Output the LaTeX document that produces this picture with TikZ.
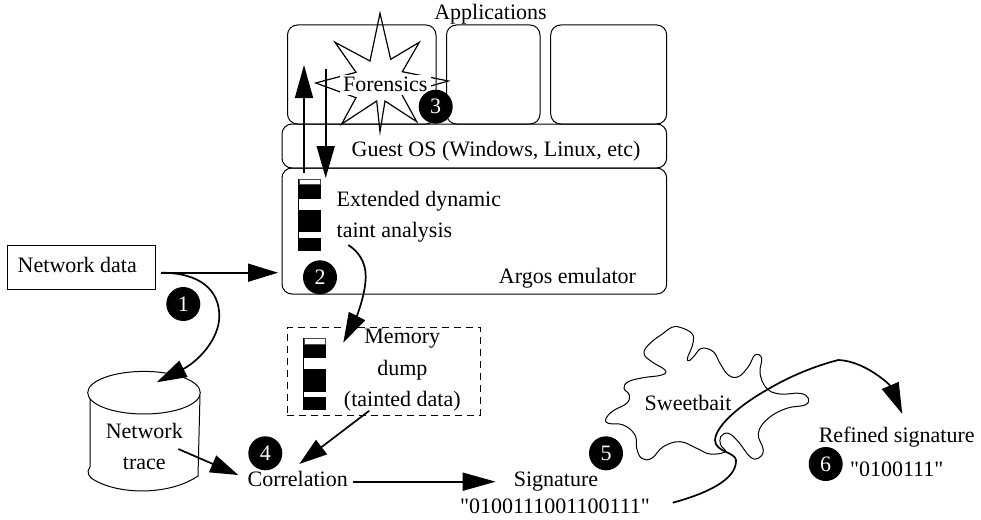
\documentclass[tikz,border=0pt]{standalone}
\usepackage{fontspec}
\setmainfont{Liberation Serif}[Ligatures=TeXOff]
\usetikzlibrary{arrows.meta}
\tikzset{
  x=1pt,y=-1pt,
  every node/.style={font=\fontsize{22}{26}\selectfont,inner sep=0pt,outer sep=0pt},
  lab/.style={anchor=base},
  labl/.style={anchor=base west},
  rbox/.style={draw=black,line width=1pt,rounded corners=10pt,minimum width=#1,anchor=north west},
  badge/.style={circle,fill=black,text=white,minimum size=34pt},
  arr/.style={line width=1.7pt,-{Triangle[length=#1,width=18pt]}},
  arr/.default=31pt,
  thinline/.style={line width=1pt,draw=black},
  barw/.style={fill=white,draw=black!70,line width=0.5pt}
}
\begin{document}
\begin{tikzpicture}
\useasboundingbox (0,0) rectangle (981,519);
% application boxes
\node[rbox=148.5pt,minimum height=99pt] (app1) at (287.5,25) {};
\node[rbox=93.5pt,minimum height=99pt] (app2) at (446.5,25) {};
\node[rbox=116pt,minimum height=99pt] (app3) at (550.7,25) {};
\node[rbox=384.7pt,minimum height=44pt] (guest) at (282,124) {};
\node[rbox=384.7pt,minimum height=126pt] (argos) at (282,168) {};
% star
\draw[line width=1.2pt,miter limit=20]
  (380,13.3) -- (390.7,59.3) -- (419.3,42.3) -- (402.3,71.7) -- (448.3,81) -- (401.7,94.3)
  -- (416.7,121.7) -- (385,101) -- (380,131.7) -- (376.7,101) -- (341.7,124) -- (356,97.7)
  -- (315.7,83) -- (356,72.3) -- (335,42.3) -- (370,61) -- cycle;
\node[fill=white,minimum width=91pt,minimum height=20pt] (forbg) at (385,85) {};
\node[lab] (forensics) at (385.3,91.7) {Forensics};
\node[lab] (apps) at (490.5,20) {Applications};
\node[lab] (guestt) at (496,156.7) {Guest OS (Windows, Linux, etc)};
\node[labl] (ext) at (336.7,206.7) {Extended dynamic};
\node[labl] (taint) at (336.7,237.3) {taint analysis};
\node[lab] (argost) at (567.5,283.3) {Argos emulator};
% tainted bar in emulator
\fill (298.3,179.3) rectangle (321,250.7);
\draw[barw] (298.8,179.6) rectangle (320.5,184.5);
\fill[white] (299,199) rectangle (320.5,210);
\fill[white] (299,232) rectangle (320.5,237.7);
% network data
\node[draw=black,line width=1pt,minimum width=148.4pt,minimum height=44.3pt,anchor=north west] (netbox) at (7.3,245) {};
\node[lab] (nett) at (77.3,272.7) {Network data};
% cylinder
\draw[line width=1pt,draw=black] (90,395) -- (90,467) .. controls (86,472) and (88,477) .. (96,481) .. controls (122,495) and (170,495) .. (198,476) -- (200,395);
\draw[line width=1pt,draw=black,fill=white] (144,392.7) ellipse [x radius=56.3,y radius=21.3];
\node[lab] (cyl1) at (144.3,438) {Network};
\node[lab] (cyl2) at (144.3,469) {trace};
% memory dump
\node[draw=black,dash pattern=on 7pt off 5pt,line width=1pt,minimum width=192.7pt,minimum height=88pt,anchor=north west] (membox) at (287.3,327.7) {};
\fill (303.3,338.3) rectangle (326,410);
\draw[barw] (303.8,338.6) rectangle (325.5,344);
\fill[white] (304,358) rectangle (325.5,369);
\fill[white] (304,392) rectangle (325.5,397);
\node[lab] (mem1) at (402.3,343.3) {Memory};
\node[lab] (mem2) at (402.3,375) {dump};
\node[lab] (mem3) at (402.3,406) {(tainted data)};
% other labels
\node[lab] (corr) at (297.7,486.7) {Correlation};
\node[lab] (sig) at (556,486.7) {Signature};
\node[lab] (sigv) at (555,513.3) {"0100111001100111"};
\node[lab] (sweet) at (688,410) {Sweetbait};
\node[lab] (ref) at (896.7,442.7) {Refined signature};
\node[lab] (refv) at (896.7,476) {"0100111"};
% sweetbait outline
\draw[thinline] plot[smooth cycle,tension=0.7] coordinates {
 (680,327.3) (691.7,333.3) (693.3,341.7) (690,351.7) (687.3,358.3) (689.3,360.7) (695,355)
 (701.7,348.3) (713.3,351.7) (720,363.3) (728.3,375) (738.3,376.7) (748.3,366.7) (755,355)
 (761.7,358.3) (760,373.3) (766.7,388.3) (780,394) (800,393.3) (808.3,398.3) (805,405)
 (786.7,408.3) (768.3,418.3) (758.3,433.3) (763.3,450) (758.3,458.3) (750,456.7) (738.3,441.7)
 (728.3,433.3) (720.7,436.7) (720.7,445) (725,451.7) (710,454) (696.7,448.3) (680,441.7)
 (663.3,446.7) (651.7,458.3) (641.7,458.3) (636.7,448.3) (635,435) (623.3,425) (608.3,423.3)
 (606,418.3) (613.3,410.7) (626.7,403.3) (629.3,395) (624,388.3) (628.3,381.7) (643.3,377.7)
 (661.7,375) (665,370) (651.7,361.7) (644,353.3) (650,343.3) (663.3,333.3) (671.7,327.3)};
% free ends of connectors
\coordinate (upS) at (304,173);
\coordinate (upE) at (304,65);
\coordinate (dnS) at (325.7,69);
\coordinate (dnE) at (325.7,178);
\coordinate (ndS) at (161,272.7);
\coordinate (ndE) at (278,272.7);
\coordinate (cylE) at (156.7,382.3);
\coordinate (trS) at (178.3,449);
\coordinate (trE) at (238.3,475);
\coordinate (mdS) at (369.3,410.7);
\coordinate (mdE) at (299.3,464);
\coordinate (coS) at (353.3,481.7);
\coordinate (coE) at (495.7,481.7);
\coordinate (taS) at (348.3,245);
\coordinate (taE) at (343.3,342.7);
\coordinate (siS) at (672.7,502.7);
\coordinate (siE) at (902.3,414);
% connectors
\draw[arr=33pt] (upS) -- (upE);
\draw[arr=32pt] (dnS) -- (dnE);
\draw[arr=30pt] (ndS) -- (ndE);
\draw[arr=30pt] (ndS) .. controls (200,272.7) and (219.3,290) .. (219.3,316) .. controls (219.3,340) and (197,362) .. (cylE);
\draw[arr=28pt] (trS) -- (trE);
\draw[arr=28pt] (mdS) -- (mdE);
\draw[arr=33pt] (coS) -- (coE);
\draw[arr=30pt] (taS) .. controls (358,251) and (366,262) .. (365.7,277) .. controls (365.5,295) and (356,318) .. (taE);
\draw[arr=31pt] (siS) .. controls (705,494) and (737,480) .. (736,460) .. controls (735,452) and (715,452) .. (715,440)
  .. controls (716,424) and (745,402) .. (766.7,390) .. controls (790,376) and (815,366) .. (838.3,360)
  .. controls (865,361) and (890,385) .. (siE);
% badges
\node[badge] (b1) at (183.3,304) {1};
\node[badge] (b2) at (320,277.3) {2};
\node[badge] (b3) at (435.7,106.7) {3};
\node[badge] (b4) at (265.3,453.3) {4};
\node[badge] (b5) at (606,453.3) {5};
\node[badge] (b6) at (825.7,464) {6};
\end{tikzpicture}
\end{document}
